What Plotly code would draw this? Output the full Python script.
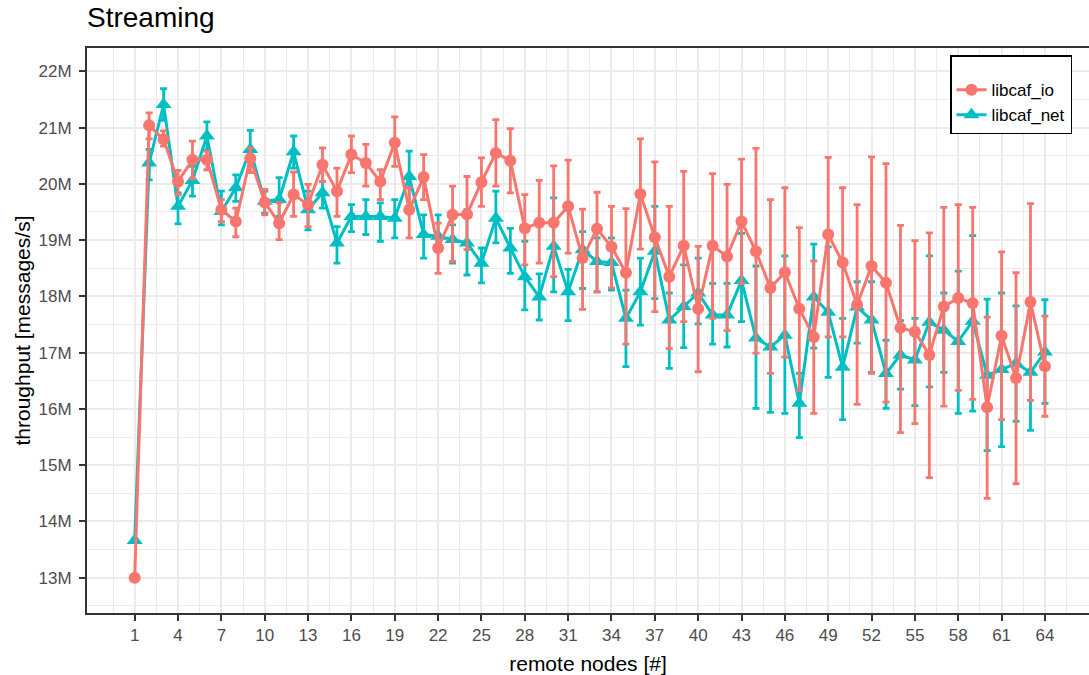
import plotly.graph_objects as go

# remote nodes
nodes = list(range(1, 65))

# libcaf_io throughput (millions of messages/s): mean, lower, upper
io_mean = [13.00, 21.04, 20.79, 20.04, 20.43, 20.43, 19.54, 19.33, 20.45, 19.67,
           19.30, 19.81, 19.63, 20.34, 19.87, 20.52, 20.37, 20.04, 20.73, 19.54,
           20.12, 18.86, 19.45, 19.46, 20.03, 20.55, 20.41, 19.21, 19.31, 19.31,
           19.60, 18.68, 19.20, 18.88, 18.42, 19.82, 19.05, 18.35, 18.90, 17.78,
           18.90, 18.71, 19.33, 18.80, 18.15, 18.43, 17.78, 17.28, 19.10, 18.60,
           17.85, 18.54, 18.24, 17.44, 17.37, 16.96, 17.82, 17.97, 17.88, 16.03,
           17.30, 16.55, 17.90, 16.76]
io_low = [12.97, 20.80, 20.67, 19.81, 20.09, 20.25, 19.33, 19.06, 20.20, 19.45,
          19.01, 19.42, 19.24, 20.04, 19.42, 20.20, 19.96, 19.72, 20.31, 19.04,
          19.72, 18.41, 18.62, 18.83, 19.60, 19.96, 19.84, 18.56, 18.59, 18.35,
          18.77, 17.77, 18.08, 18.15, 17.15, 18.84, 17.73, 17.07, 17.55, 16.66,
          17.61, 17.39, 18.23, 16.99, 16.63, 16.92, 16.33, 15.92, 17.28, 17.28,
          16.08, 16.63, 16.12, 15.58, 15.74, 14.78, 16.05, 16.33, 16.17, 14.41,
          15.81, 14.67, 16.15, 15.87]
io_high = [13.03, 21.26, 20.94, 20.24, 20.76, 20.58, 19.72, 19.57, 20.64, 19.90,
           19.66, 20.21, 19.99, 20.64, 20.28, 20.85, 20.70, 20.25, 21.19, 19.93,
           20.52, 19.30, 19.96, 20.13, 20.46, 21.14, 20.98, 19.81, 20.06, 20.32,
           20.42, 19.55, 19.85, 19.60, 19.56, 20.80, 20.39, 19.60, 20.22, 18.89,
           20.18, 19.99, 20.44, 20.63, 19.72, 19.93, 19.22, 18.63, 20.47, 19.93,
           19.63, 20.48, 20.36, 19.26, 18.99, 19.13, 19.58, 19.63, 19.58, 17.63,
           18.79, 18.42, 19.65, 17.65]

# libcaf_net throughput (millions of messages/s): mean, lower, upper
net_mean = [13.66, 20.37, 21.41, 19.60, 20.06, 20.85, 19.51, 19.93, 20.61, 19.69,
            19.72, 20.57, 19.54, 19.84, 18.95, 19.42, 19.42, 19.42, 19.39, 20.13,
            19.10, 19.07, 19.01, 18.95, 18.59, 19.39, 18.86, 18.35, 17.99, 18.89,
            18.08, 18.83, 18.62, 18.60, 17.61, 18.08, 18.80, 17.58, 17.82, 18.06,
            17.67, 17.67, 18.28, 17.26, 17.10, 17.31, 16.10, 17.99, 17.72, 16.74,
            17.81, 17.58, 16.63, 16.96, 16.87, 17.54, 17.40, 17.20, 17.56, 16.60,
            16.70, 16.81, 16.65, 17.01]
net_low = [13.63, 20.07, 21.13, 19.29, 19.78, 20.60, 19.27, 19.69, 20.31, 19.48,
           19.42, 20.28, 19.18, 19.57, 18.59, 19.15, 19.10, 18.98, 19.04, 19.60,
           18.68, 18.80, 18.59, 18.38, 18.24, 18.95, 18.41, 17.76, 17.58, 18.08,
           17.57, 18.14, 18.08, 18.11, 16.75, 17.49, 17.96, 16.72, 17.09, 17.51,
           17.15, 17.10, 17.55, 16.01, 15.94, 15.92, 15.49, 17.08, 16.56, 15.81,
           17.17, 16.65, 16.01, 16.35, 16.06, 16.39, 16.65, 15.92, 15.96, 15.26,
           15.33, 15.78, 15.62, 16.10]
net_high = [13.69, 20.61, 21.69, 19.84, 20.31, 21.10, 19.87, 20.16, 20.95, 19.87,
            20.11, 20.85, 19.87, 20.04, 19.24, 19.63, 19.72, 19.66, 19.72, 20.58,
            19.45, 19.45, 19.27, 19.54, 18.86, 19.87, 19.21, 18.98, 18.40, 19.75,
            18.48, 19.15, 19.04, 19.04, 18.11, 18.68, 19.60, 18.06, 18.56, 18.68,
            18.23, 18.23, 19.12, 18.54, 18.24, 18.72, 16.63, 18.93, 18.88, 17.61,
            18.26, 18.26, 17.22, 17.57, 17.61, 18.72, 18.06, 18.45, 19.08, 17.95,
            18.06, 17.83, 17.72, 17.94]

x_ticks = list(range(1, 65, 3))
y_ticks = list(range(13, 23))
y_tick_labels = [f"{v}M" for v in y_ticks]

RED = "#F8766D"
TEAL = "#00BFC4"
FONT = "Arial, Liberation Sans, sans-serif"


def make_trace(name, mean, low, high, color, symbol, size):
    return go.Scatter(
        x=nodes, y=mean, name=name, mode="lines+markers",
        line=dict(color=color, width=3),
        marker=dict(color=color, symbol=symbol, size=size, line=dict(width=0)),
        error_y=dict(type="data", symmetric=False,
                     array=[h - m for h, m in zip(high, mean)],
                     arrayminus=[m - l for m, l in zip(mean, low)],
                     color=color, thickness=2.8, width=3.5),
    )


fig = go.Figure()
fig.add_trace(make_trace("libcaf_net", net_mean, net_low, net_high, TEAL, "triangle-up", 14))
fig.add_trace(make_trace("libcaf_io", io_mean, io_low, io_high, RED, "circle", 12))

axis_common = dict(
    showline=True, linecolor="#333333", linewidth=2,
    ticks="outside", ticklen=6, tickwidth=2, tickcolor="#333333",
    tickfont=dict(family=FONT, size=17, color="#4D4D4D"),
    showgrid=True, gridcolor="#EBEBEB", gridwidth=2.4,
    zeroline=False, automargin=False,
)

fig.update_layout(
    width=1089, height=675,
    margin=dict(l=87, r=0, t=48, b=62, autoexpand=False),
    paper_bgcolor="white", plot_bgcolor="white",
    font=dict(family=FONT, color="black"),
    title=dict(text="Streaming", x=87 / 1089, xref="container", xanchor="left",
               y=1 - 17 / 675, yref="container", yanchor="middle",
               automargin=False,
               font=dict(family=FONT, size=28, color="black")),
    xaxis=dict(
        **axis_common, mirror=True,
        range=[-2.3, 67.05], tickvals=x_ticks,
        minor=dict(tick0=-0.5, dtick=3, showgrid=True, gridcolor="#EBEBEB",
                   gridwidth=1.2, ticks=""),
        title=dict(text="remote nodes [#]", font=dict(family=FONT, size=21, color="black")),
    ),
    yaxis=dict(
        **axis_common,
        range=[12.373, 22.414], tickvals=y_ticks, ticktext=y_tick_labels,
        ticklabelstandoff=4,
        minor=dict(tick0=12.5, dtick=1, showgrid=True, gridcolor="#EBEBEB",
                   gridwidth=1.2, ticks=""),
    ),
    annotations=[dict(
        text="throughput [messages/s]", textangle=-90,
        xref="paper", yref="paper", x=(22 - 87) / (1089 - 87), y=0.5,
        xanchor="center", yanchor="middle", showarrow=False,
        font=dict(family=FONT, size=21, color="black"),
    )],
    legend=dict(
        x=(950 - 87) / (1089 - 87), y=(613 - 55) / (613 - 48),
        xanchor="left", yanchor="top",
        traceorder="reversed",
        bgcolor="white", bordercolor="black", borderwidth=1.5,
        font=dict(family=FONT, size=17, color="black"),
        title=dict(text=" ", font=dict(size=12)),
        itemwidth=30,
    ),
    showlegend=True,
)

fig.write_html(
    "out.html",
    config={"displayModeBar": False},
    post_script="document.body.style.margin='0';document.body.style.overflow='hidden';",
)
